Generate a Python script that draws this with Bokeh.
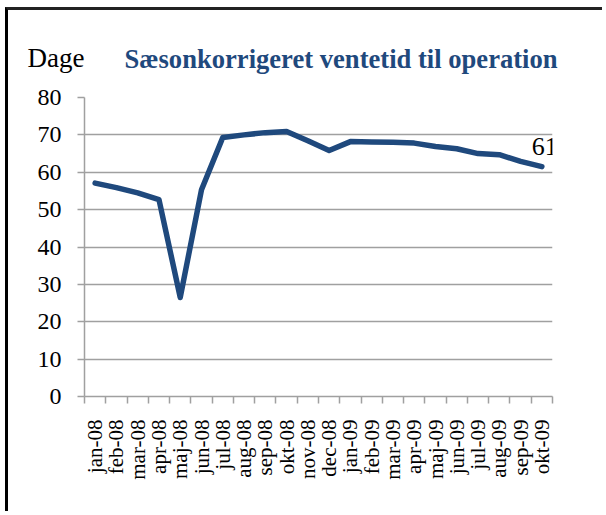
import math
from bokeh.plotting import figure
from bokeh.models import FixedTicker, Label, Range1d
from bokeh.embed import file_html
from bokeh.resources import INLINE

months = ["jan-08", "feb-08", "mar-08", "apr-08", "maj-08", "jun-08", "jul-08",
          "aug-08", "sep-08", "okt-08", "nov-08", "dec-08", "jan-09", "feb-09",
          "mar-09", "apr-09", "maj-09", "jun-09", "jul-09", "aug-09", "sep-09", "okt-09"]
ventetid = [57.1, 55.9, 54.5, 52.7, 26.5, 55.3, 69.3, 70.0, 70.6, 70.9, 68.4, 65.8,
            68.2, 68.1, 68.0, 67.8, 66.9, 66.3, 65.0, 64.7, 62.9, 61.5]
y_ticks = [0, 10, 20, 30, 40, 50, 60, 70, 80]
title_text = "Sæsonkorrigeret ventetid til operation"
y_label = "Dage"
end_label = "61"

FONT = "Liberation Serif"
BLUE = "#1F497D"
GRID = "#a0a0a0"

n = len(months)
xs = [i + 0.5 for i in range(n)]

p = figure(width=597, height=504, output_backend="svg", toolbar_location=None,
           x_range=Range1d(0, n), y_range=Range1d(0, 80),
           min_border_left=76, min_border_right=53, min_border_top=87, min_border_bottom=118)
p.outline_line_color = None
p.background_fill_color = "white"
p.border_fill_color = "white"
p.styles = {"border-left": "3px solid #000", "border-top": "3px solid #222",
            "margin-left": "5px", "margin-top": "7px"}

p.line(xs, ventetid, line_color=BLUE, line_width=5.5, line_join="round", line_cap="round")

# title
p.title.text = title_text
p.title.align = "left"
p.title.offset = 40
p.title.standoff = 48
p.title.text_font = FONT
p.title.text_font_size = "26.6px"
p.title.text_font_style = "bold"
p.title.text_color = BLUE

# y axis
p.yaxis.ticker = FixedTicker(ticks=y_ticks)
p.yaxis.axis_line_color = GRID
p.yaxis.axis_line_width = 1.5
p.yaxis.major_tick_line_color = GRID
p.yaxis.major_tick_line_width = 1.5
p.yaxis.major_tick_out = 7
p.yaxis.major_tick_in = 0
p.yaxis.minor_tick_line_color = None
p.yaxis.major_label_text_font = FONT
p.yaxis.major_label_text_font_size = "24px"
p.yaxis.major_label_text_color = "#000"
p.yaxis.major_label_standoff = 16

# x axis: labels centered, ticks at boundaries
p.xaxis.ticker = FixedTicker(ticks=xs, minor_ticks=list(range(n + 1)))
p.xaxis.major_label_overrides = {x: m for x, m in zip(xs, months)}
p.xaxis.major_label_orientation = math.pi / 2
p.xaxis.major_label_text_font = FONT
p.xaxis.major_label_text_font_size = "21px"
p.xaxis.major_label_text_color = "#000"
p.xaxis.major_label_standoff = 16
p.xaxis.major_tick_line_color = None
p.xaxis.major_tick_out = 0
p.xaxis.minor_tick_line_color = GRID
p.xaxis.minor_tick_line_width = 1.5
p.xaxis.minor_tick_out = 7
p.xaxis.minor_tick_in = 0
p.xaxis.axis_line_color = GRID
p.xaxis.axis_line_width = 1.5

p.xgrid.grid_line_color = None
p.ygrid.grid_line_color = GRID
p.ygrid.grid_line_width = 1.5
p.ygrid.ticker = FixedTicker(ticks=y_ticks)

# axis title "Dage": lives in the spare space of the bottom panel, drawn up at the title row
p.add_layout(Label(x=-57, y=455, x_units="screen", y_units="screen", text=y_label,
                   text_font=FONT, text_font_size="27px", text_color="#000",
                   text_baseline="alphabetic"), "below")
p.add_layout(Label(x=xs[-1], y=ventetid[-1], x_offset=-10, y_offset=20, text=end_label,
                   text_font=FONT, text_font_size="26px", text_color="#000",
                   text_baseline="alphabetic"))

open("out.html", "w").write(file_html(p, INLINE))
